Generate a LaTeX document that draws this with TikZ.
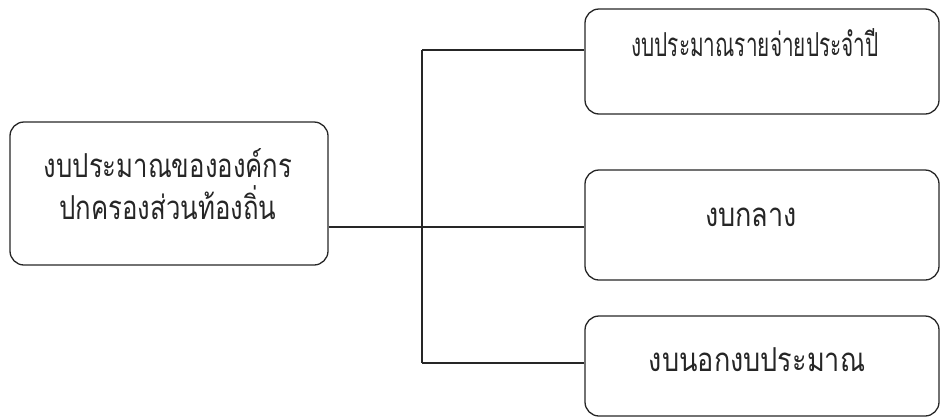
\documentclass[tikz,border=0pt]{standalone}
\usepackage{fontspec}
\usepackage{graphicx}
\newfontfamily\thaifont[Script=Thai]{Loma}
\newcommand{\thtxt}[2]{\scalebox{#1}[1]{\thaifont\fontsize{33}{40}\selectfont #2}}
\begin{document}
\begin{tikzpicture}[x=1pt,y=-1pt,
  boxstyle/.style={draw=black!85, line width=1.3pt, rounded corners=14pt, inner sep=0pt},
  txt/.style={text=black!85, inner sep=0pt, anchor=center},
  conn/.style={draw=black!85, line width=1.3pt}]
\useasboundingbox (0,0) rectangle (941,418);
\node[boxstyle, minimum width=318pt, minimum height=143pt] (L) at (169,193.5) {};
\node[boxstyle, minimum width=354pt, minimum height=105pt] (B1) at (762,61.5) {};
\node[boxstyle, minimum width=354pt, minimum height=110pt] (B2) at (762,225) {};
\node[boxstyle, minimum width=354pt, minimum height=100pt] (B3) at (762,366) {};
\node[txt] (L1) at (168,163) {\thtxt{0.78}{งบประมาณขององค์กร}};
\node[txt] (L2) at (168,203) {\thtxt{0.78}{ปกครองส่วนท้องถิ่น}};
\node[txt] (T1) at (755,43) {\thtxt{0.63}{งบประมาณรายจ่ายประจำปี}};
\node[txt] (T2) at (751,217) {\thtxt{0.82}{งบกลาง}};
\node[txt] (T3) at (757,360) {\thtxt{0.82}{งบนอกงบประมาณ}};
\coordinate (jt) at (422,50);
\coordinate (jm) at (422,227);
\coordinate (jb) at (422,363);
\draw[conn] (L.east |- jm) -- (B2.west |- jm);
\draw[conn] (jt) -- (jb);
\draw[conn] (jt) -- (B1.west |- jt);
\draw[conn] (jb) -- (B3.west |- jb);
\end{tikzpicture}
\end{document}
